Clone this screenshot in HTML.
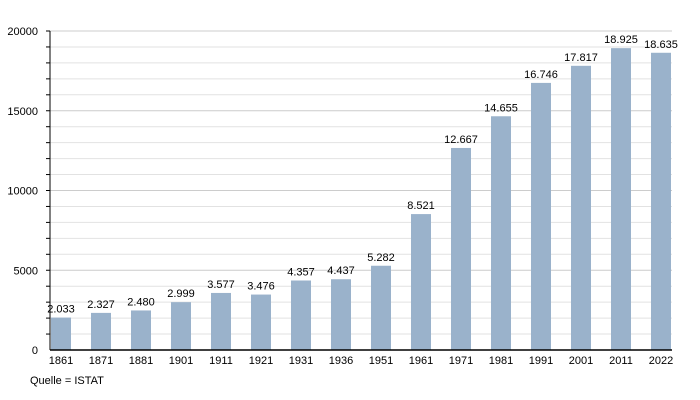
<!DOCTYPE html>
<html><head><meta charset="utf-8"><style>
body{margin:0;background:#fff;}
svg{display:block;font-family:"Liberation Sans",sans-serif;}
</style></head><body>
<svg id="chart" width="700" height="400" viewBox="0 0 700 400"></svg>
<script>
const categories=["1861","1871","1881","1901","1911","1921","1931","1936","1951","1961","1971","1981","1991","2001","2011","2022"];
const values=[2033,2327,2480,2999,3577,3476,4357,4437,5282,8521,12667,14655,16746,17817,18925,18635];
const valueLabels=["2.033","2.327","2.480","2.999","3.577","3.476","4.357","4.437","5.282","8.521","12.667","14.655","16.746","17.817","18.925","18.635"];
const yTicks=[0,5000,10000,15000,20000];
const NS="http://www.w3.org/2000/svg";
const svg=document.getElementById('chart');
const x0=50,x1=672,yBase=350,yTop=31,yMax=20000;
function y(v){return yBase-(v/yMax)*(yBase-yTop);}
function xb(i){return 51+i*40;}
function mk(t,a){const e=document.createElementNS(NS,t);for(const k in a)e.setAttribute(k,a[k]);svg.appendChild(e);return e;}
for(let v=1000;v<=yMax;v+=1000){
 const g=mk('line',{x1:x0,x2:x1,y1:y(v),y2:y(v),stroke:v%5000===0?'#ccc':'#e2e2e2','stroke-width':1});
 
 
 const t=mk('line',{x1:x0-4,x2:x0,y1:y(v),y2:y(v),stroke:'#000'});
 
 
}
yTicks.forEach(v=>{
 const t=mk('text',{x:x0-12,y:y(v)+4,'text-anchor':'end','font-size':11,fill:'#000'});
 t.textContent=v;
 
 
});
categories.forEach((c,i)=>{
 const r=mk('rect',{x:xb(i),y:y(values[i]),width:20,height:yBase-y(values[i]),fill:'#9ab2cb'});
 
 
 const l=mk('text',{x:xb(i)+10,y:y(values[i])-5,'text-anchor':'middle','font-size':11,fill:'#000'});
 l.textContent=valueLabels[i];
 
 
 const xl=mk('text',{x:xb(i)+10,y:364,'text-anchor':'middle','font-size':11,fill:'#000'});
 xl.textContent=c;
 
 
});
const ya=mk('line',{x1:x0,x2:x0,y1:yTop,y2:yBase,stroke:'#000'});


const xa=mk('line',{x1:x0,x2:x1,y1:yBase,y2:yBase,stroke:'#000','stroke-width':1.5});


const src=mk('text',{x:30,y:384,'font-size':11,fill:'#000'});
src.textContent='Quelle = ISTAT';


</script>
</body></html>
